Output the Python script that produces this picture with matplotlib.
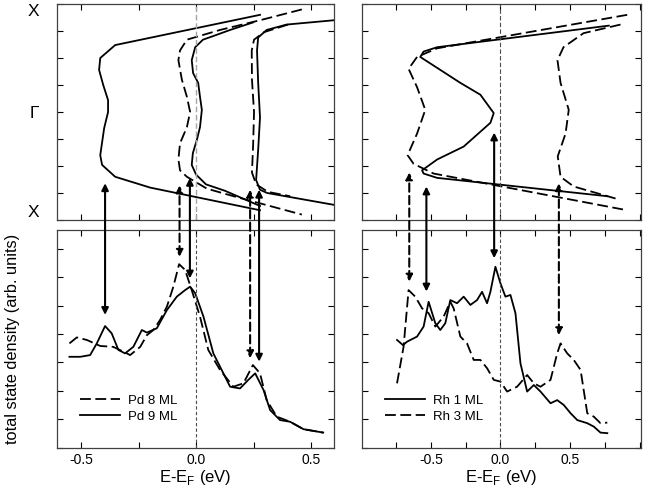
import numpy as np
import matplotlib
matplotlib.use("Agg")
import matplotlib.pyplot as plt
from matplotlib.patches import ConnectionPatch
from matplotlib.ticker import MultipleLocator

plt.rcParams['font.family'] = ['Liberation Sans', 'DejaVu Sans']

# ---- band structure (E in eV, k from X=-1 through Gamma=0 to X=1) ----
# Pd, left top
pd9_band1_e = [0.278, -0.352, -0.417, -0.422, -0.404, -0.383, -0.383, -0.400, -0.417, -0.409, -0.352, -0.200, 0.278]
pd9_band1_k = [0.90, 0.62, 0.50, 0.39, 0.25, 0.11, 0.0, -0.15, -0.40, -0.49, -0.60, -0.70, -0.91]
pd9_band2_e = [0.248, 0.148, 0.070, 0.030, -0.004, -0.019, -0.013, 0.009, 0.017, 0.025, 0.017, 0.003, -0.014, -0.019, 0.0, 0.043, 0.126, 0.278]
pd9_band2_k = [0.83, 0.76, 0.70, 0.67, 0.60, 0.48, 0.36, 0.27, 0.14, 0.02, -0.14, -0.26, -0.38, -0.49, -0.58, -0.67, -0.73, -0.87]
pd9_band3_e = [0.600, 0.394, 0.307, 0.270, 0.265, 0.270, 0.278, 0.270, 0.261, 0.278, 0.309, 0.600]
pd9_band3_k = [0.85, 0.81, 0.76, 0.69, 0.57, 0.27, -0.05, -0.35, -0.63, -0.72, -0.75, -0.86]
pd8_band1_e = [0.460, 0.278, 0.104, -0.040, -0.070, -0.077, -0.062, -0.040, -0.026, -0.040, -0.070, -0.077, -0.070, -0.040, 0.047, 0.163, 0.460]
pd8_band1_k = [0.95, 0.85, 0.76, 0.67, 0.57, 0.48, 0.30, 0.14, 0.0, -0.14, -0.29, -0.44, -0.54, -0.60, -0.71, -0.78, -0.95]
pd8_band2_e = [0.400, 0.296, 0.252, 0.242, 0.243, 0.252, 0.248, 0.243, 0.261, 0.313, 0.409]
pd8_band2_k = [0.81, 0.74, 0.67, 0.57, 0.30, 0.0, -0.31, -0.56, -0.67, -0.74, -0.78]

# Rh, right top
rh1_band_e = [0.779, -0.455, -0.552, -0.576, -0.288, -0.144, -0.048, -0.072, -0.264, -0.455, -0.563, -0.552, -0.455, 0.768]
rh1_band_k = [0.80, 0.60, 0.56, 0.51, 0.27, 0.16, -0.01, -0.10, -0.32, -0.44, -0.54, -0.57, -0.61, -0.78]
rh3_band1_e = [0.911, -0.455, -0.599, -0.660, -0.599, -0.540, -0.599, -0.667, -0.624, -0.480, 0.911]
rh3_band1_k = [0.90, 0.59, 0.51, 0.40, 0.23, 0.02, -0.20, -0.40, -0.48, -0.57, -0.91]
rh3_band2_e = [0.863, 0.597, 0.453, 0.410, 0.432, 0.491, 0.468, 0.412, 0.432, 0.527, 0.851]
rh3_band2_k = [0.81, 0.73, 0.60, 0.48, 0.27, 0.02, -0.20, -0.41, -0.60, -0.69, -0.81]

# ---- total state density ----
pd8_e = [-0.551, -0.519, -0.475, -0.417, -0.361, -0.316, -0.287, -0.243, -0.214, -0.186, -0.157, -0.127, -0.099, -0.074,
         -0.048, -0.019, 0.017, 0.053, 0.104, 0.162, 0.206, 0.247, 0.278, 0.307, 0.351, 0.409, 0.467, 0.553]
pd8_dos = [3.67, 3.88, 3.79, 3.58, 3.55, 3.38, 3.26, 3.55, 3.96, 4.14, 4.49, 4.96, 5.66, 6.45,
           6.25, 5.54, 4.61, 3.44, 2.74, 2.15, 2.27, 2.91, 2.62, 1.68, 1.10, 0.92, 0.66, 0.54]
pd9_e = [-0.551, -0.504, -0.461, -0.432, -0.396, -0.367, -0.338, -0.309, -0.273, -0.236, -0.214, -0.171, -0.127, -0.084,
         -0.048, -0.026, -0.004, 0.032, 0.075, 0.148, 0.191, 0.227, 0.257, 0.293, 0.322, 0.365, 0.409, 0.467, 0.553]
pd9_dos = [3.20, 3.20, 3.26, 3.67, 4.28, 4.02, 3.44, 3.32, 3.55, 4.14, 4.05, 4.20, 4.84, 5.31,
           5.54, 5.66, 5.43, 4.61, 3.32, 2.15, 2.09, 2.39, 2.62, 2.04, 1.33, 0.98, 0.92, 0.66, 0.54]
rh1_e = [-0.743, -0.700, -0.671, -0.599, -0.552, -0.516, -0.468, -0.432, -0.396, -0.360, -0.312, -0.264, -0.216, -0.168,
         -0.132, -0.096, -0.072, -0.036, 0.0, 0.036, 0.072, 0.108, 0.144, 0.192, 0.240, 0.288, 0.360, 0.408, 0.455,
         0.504, 0.552, 0.624, 0.671, 0.719, 0.768]
rh1_dos = [3.79, 3.61, 3.73, 3.91, 4.26, 5.13, 4.38, 4.14, 4.38, 5.19, 5.08, 5.31, 5.02, 5.19,
           5.48, 5.08, 5.48, 6.36, 5.78, 5.31, 5.37, 4.73, 2.97, 1.98, 2.21, 1.98, 1.57, 1.68, 1.51,
           1.22, 0.98, 0.87, 0.75, 0.54, 0.52]
rh3_e = [-0.743, -0.696, -0.660, -0.612, -0.563, -0.516, -0.468, -0.408, -0.360, -0.336, -0.288, -0.240, -0.192, -0.144,
         -0.096, -0.048, 0.0, 0.048, 0.120, 0.192, 0.240, 0.288, 0.360, 0.408, 0.432, 0.480, 0.527, 0.576, 0.624,
         0.671, 0.719, 0.768]
rh3_dos = [2.27, 3.55, 5.54, 5.31, 4.90, 4.73, 4.26, 4.61, 5.13, 4.90, 3.91, 3.67, 3.09, 3.09,
           2.80, 2.39, 2.33, 1.98, 2.15, 2.56, 2.27, 2.15, 2.39, 3.32, 3.67, 3.32, 3.09, 2.74, 1.22,
           1.10, 0.87, 0.89]

# arrows: (energy, k on band, dos at peak, dashed?)
pd_arrows = [(-0.396, -0.66, 4.67, False), (-0.072, -0.68, 6.71, True), (-0.027, -0.61, 5.95, False),
             (0.235, -0.72, 3.15, True), (0.274, -0.72, 3.03, False)]
rh_arrows = [(-0.655, -0.56, 5.84, True), (-0.532, -0.69, 5.49, False), (-0.045, -0.19, 6.66, False),
             (0.420, -0.66, 3.96, True)]

DASH = (0, (6, 2.5))
LW = 1.3

fig = plt.figure(figsize=(6.51, 4.93), dpi=100)
ax_lt = fig.add_axes([0.0876, 0.5538, 0.4255, 0.438])
ax_lb = fig.add_axes([0.0876, 0.0913, 0.4255, 0.4422])
ax_rt = fig.add_axes([0.556, 0.5538, 0.4286, 0.438])
ax_rb = fig.add_axes([0.556, 0.0913, 0.4286, 0.4422])

# top left bands
ax_lt.plot(pd9_band1_e, pd9_band1_k, color='k', lw=LW)
ax_lt.plot(pd9_band2_e, pd9_band2_k, color='k', lw=LW)
ax_lt.plot(pd9_band3_e, pd9_band3_k, color='k', lw=LW)
ax_lt.plot(pd8_band1_e, pd8_band1_k, color='k', lw=LW, ls=DASH)
ax_lt.plot(pd8_band2_e, pd8_band2_k, color='k', lw=LW, ls=DASH)
ax_lt.axvline(0, color='0.65', lw=1.0, ls=(0, (4, 2)))

# top right bands
ax_rt.plot(rh1_band_e, rh1_band_k, color='k', lw=LW)
ax_rt.plot(rh3_band1_e, rh3_band1_k, color='k', lw=LW, ls=DASH)
ax_rt.plot(rh3_band2_e, rh3_band2_k, color='k', lw=LW, ls=DASH)
ax_rt.axvline(0, color='0.3', lw=0.8, ls=(0, (4, 2)))

# DOS
ax_lb.plot(pd8_e, pd8_dos, color='k', lw=LW, ls=DASH, label='Pd 8 ML')
ax_lb.plot(pd9_e, pd9_dos, color='k', lw=LW, label='Pd 9 ML')
ax_lb.axvline(0, color='0.3', lw=0.8, ls=(0, (3, 2)))
ax_rb.plot(rh1_e, rh1_dos, color='k', lw=LW, label='Rh 1 ML')
ax_rb.plot(rh3_e, rh3_dos, color='k', lw=LW, ls=DASH, label='Rh 3 ML')
ax_rb.axvline(0, color='0.3', lw=0.8, ls=(0, (3, 2)))

for ax in (ax_lt, ax_lb):
    ax.set_xlim(-0.605, 0.6)
for ax in (ax_rt, ax_rb):
    ax.set_xlim(-0.995, 1.01)
for ax in (ax_lt, ax_rt):
    ax.set_ylim(-1, 1)
    ax.yaxis.set_major_locator(MultipleLocator(0.25))
for ax in (ax_lb, ax_rb):
    ax.set_ylim(0, 7.65)
    ax.yaxis.set_major_locator(MultipleLocator(1))

for ax in (ax_lt, ax_lb, ax_rt, ax_rb):
    ax.xaxis.set_major_locator(MultipleLocator(0.5))
    ax.xaxis.set_minor_locator(MultipleLocator(0.25))
    ax.tick_params(which='both', direction='in', top=True, right=True, length=4, width=0.8)
    ax.tick_params(labelsize=10)
    ax.set_yticklabels([])
    for s in ax.spines.values():
        s.set_linewidth(0.9)
        s.set_color('0.25')

for ax in (ax_lt, ax_rt):
    ax.set_xticklabels([])

ax_lt.set_yticks([-1, -0.75, -0.5, -0.25, 0, 0.25, 0.5, 0.75, 1])
ax_lt.set_yticklabels(['X', '', '', '', '\u0393', '', '', '', 'X'], fontsize=12.5)
ax_lt.tick_params(axis='y', pad=13)
klabels = ax_lt.get_yticklabels()
klabels[0].set_verticalalignment('bottom')
klabels[-1].set_verticalalignment('top')

for ax in (ax_lb, ax_rb):
    ax.set_xticks([-0.5, 0.0, 0.5])
    ax.set_xticklabels(['-0.5', '0.0', '0.5'])
    ax.set_xlabel('E-E$_\\mathregular{F}$ (eV)', fontsize=12, labelpad=1)

ax_lb.set_ylabel('total state density (arb. units)', fontsize=11.8)
ax_lb.yaxis.set_label_coords(-0.135, 0.5)

leg_kw = dict(frameon=False, fontsize=9.5, handlelength=3.0, handletextpad=0.6, labelspacing=0.3,
              loc='lower left', borderaxespad=0)
ax_lb.legend(bbox_to_anchor=(0.065, 0.09), **leg_kw)
ax_rb.legend(bbox_to_anchor=(0.065, 0.09), **leg_kw)

# double-headed arrows from DOS peaks up to the bands
for ax_top, ax_bot, arrows in ((ax_lt, ax_lb, pd_arrows), (ax_rt, ax_rb, rh_arrows)):
    for e, k, d, dashed in arrows:
        con = ConnectionPatch(xyA=(e, d), coordsA=ax_bot.transData,
                              xyB=(e, k), coordsB=ax_top.transData,
                              arrowstyle='<|-|>', mutation_scale=10, lw=1.5, color='k',
                              ls=(0, (4, 2)) if dashed else '-', shrinkA=0, shrinkB=0)
        fig.add_artist(con)

fig.savefig('out.png', dpi=100)
